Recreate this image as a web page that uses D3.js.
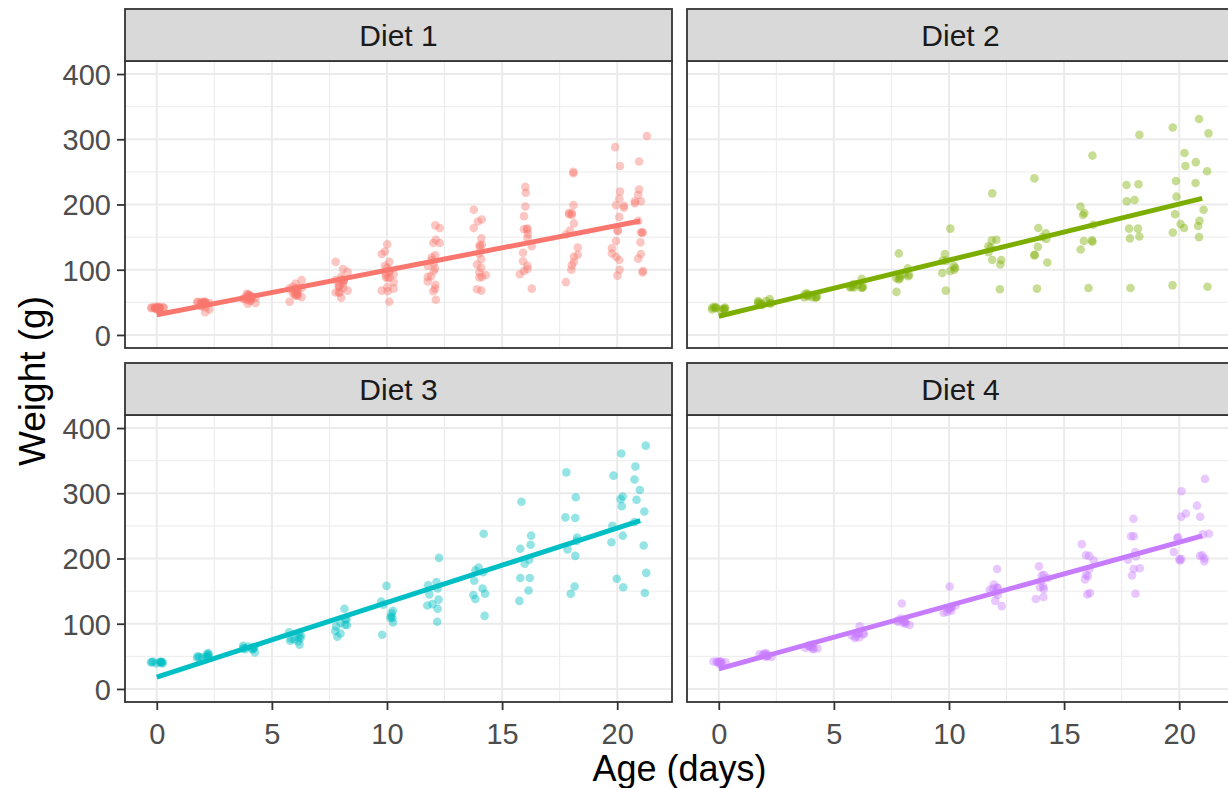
<!DOCTYPE html>
<html>
<head>
    <title>Chick weight by diet</title>
    <script src="https://d3js.org/d3.v7.min.js"></script>
    <style>
        body { margin: 0; background: #fff; }
        text { font-family: "Liberation Sans", Arial, sans-serif; }
    </style>
</head>
<body>
<svg width="1228" height="788"></svg>
<script>
    // ChickWeight: one row per chick, weights at the times below (short rows = chick dropped out)
    const times = [0, 2, 4, 6, 8, 10, 12, 14, 16, 18, 20, 21];
    const diets = ["Diet 1", "Diet 2", "Diet 3", "Diet 4"];
    const diet1 = [
        [42, 51, 59, 64, 76, 93, 106, 125, 149, 171, 199, 205],
        [40, 49, 58, 72, 84, 103, 122, 138, 162, 187, 209, 215],
        [43, 39, 55, 67, 84, 99, 115, 138, 163, 187, 198, 202],
        [42, 49, 56, 67, 74, 87, 102, 108, 136, 154, 160, 157],
        [41, 42, 48, 60, 79, 106, 141, 164, 197, 199, 220, 223],
        [41, 49, 59, 74, 97, 124, 141, 148, 155, 160, 160, 157],
        [41, 49, 57, 71, 89, 112, 146, 174, 218, 250, 288, 305],
        [42, 50, 61, 71, 84, 93, 110, 116, 126, 134, 125],
        [42, 51, 59, 68, 85, 96, 90, 92, 93, 100, 100, 98],
        [41, 44, 52, 63, 74, 81, 89, 96, 101, 112, 120, 124],
        [43, 51, 63, 84, 112, 139, 168, 177, 182, 184, 181, 175],
        [41, 49, 56, 62, 72, 88, 119, 135, 162, 185, 195, 205],
        [41, 48, 53, 60, 65, 67, 71, 70, 71, 81, 91, 96],
        [41, 49, 62, 79, 101, 128, 164, 192, 227, 248, 259, 266],
        [41, 49, 56, 64, 68, 68, 67, 68],
        [41, 45, 49, 51, 57, 51, 54],
        [42, 51, 61, 72, 83, 89, 98, 103, 113, 123, 133, 142],
        [39, 35],
        [43, 48, 55, 62, 65, 71, 82, 88, 106, 120, 144, 157],
        [41, 47, 54, 58, 65, 73, 77, 89, 98, 107, 115, 117]
    ];
    const diet2 = [
        [40, 50, 62, 86, 125, 163, 217, 240, 275, 307, 318, 331],
        [41, 55, 64, 77, 90, 95, 108, 111, 131, 148, 164, 167],
        [43, 52, 61, 73, 90, 103, 127, 135, 145, 163, 170, 175],
        [42, 52, 58, 74, 66, 68, 70, 71, 72, 72, 76, 74],
        [40, 49, 62, 78, 102, 124, 146, 164, 197, 231, 259, 265],
        [42, 48, 57, 74, 93, 114, 136, 147, 169, 205, 236, 251],
        [39, 46, 58, 73, 87, 100, 115, 123, 144, 163, 185, 192],
        [39, 46, 58, 73, 92, 114, 145, 156, 184, 207, 212, 233],
        [39, 48, 59, 74, 87, 106, 134, 150, 187, 230, 279, 309],
        [42, 48, 59, 72, 85, 98, 115, 122, 143, 151, 157, 150]
    ];
    const diet3 = [
        [42, 53, 62, 73, 85, 102, 123, 138, 170, 204, 235, 256],
        [41, 49, 65, 82, 107, 129, 159, 179, 221, 263, 291, 305],
        [39, 50, 63, 77, 96, 111, 137, 144, 151, 146, 156, 147],
        [41, 49, 63, 85, 107, 134, 164, 186, 235, 294, 327, 341],
        [41, 53, 64, 87, 123, 158, 201, 238, 287, 332, 361, 373],
        [39, 48, 61, 76, 98, 116, 145, 166, 198, 227, 225, 220],
        [41, 48, 56, 68, 80, 83, 103, 112, 135, 157, 169, 178],
        [41, 49, 61, 74, 98, 109, 128, 154, 192, 232, 280, 290],
        [42, 50, 61, 78, 89, 109, 130, 146, 170, 214, 250, 272],
        [41, 55, 66, 79, 101, 120, 154, 182, 215, 262, 295, 321]
    ];
    const diet4 = [
        [42, 51, 66, 85, 103, 124, 155, 153, 175, 184, 199, 204],
        [42, 49, 63, 84, 103, 126, 160, 174, 204, 234, 269, 281],
        [42, 55, 69, 96, 131, 157, 184, 188, 197, 198, 199, 200],
        [42, 51, 65, 86, 103, 118, 127, 138, 145, 146],
        [41, 50, 61, 78, 98, 117, 135, 141, 147, 174, 197, 196],
        [40, 52, 62, 82, 101, 120, 144, 156, 173, 210, 231, 238],
        [41, 53, 66, 79, 100, 123, 148, 157, 168, 185, 210, 205],
        [39, 50, 62, 80, 104, 125, 154, 170, 222, 261, 303, 322],
        [40, 53, 64, 85, 108, 128, 152, 166, 184, 203, 233, 237],
        [41, 54, 67, 84, 105, 122, 155, 175, 205, 234, 264, 264]
    ];
    // horizontal jitter offsets (days), cycled over the points
    const jitter = [0.12, -0.21, 0.27, -0.05, 0.18, -0.28, 0.03, 0.24, -0.14, 0.09,
                    -0.25, 0.21, -0.09, 0.15, -0.18, 0.29, -0.02, 0.06, -0.23, 0.26,
                    -0.12, 0.01, 0.2, -0.29, 0.1, -0.16, 0.23];
    const colors = ["#F8766D", "#7CAE00", "#00BFC4", "#C77CFF"];
    const xTicks = [0, 5, 10, 15, 20];
    const xMinor = [2.5, 7.5, 12.5, 17.5];
    const yTicks = [0, 100, 200, 300, 400];
    const yMinor = [50, 150, 250, 350];

    const dietData = [diet1, diet2, diet3, diet4];

    const svg = d3.select("svg");
    const colX = [125, 687];
    const rowY = [9, 363];
    const panelW = 547, stripH = 52, panelH = 287;

    const x = d3.scaleLinear().domain([-1.38, 22.38]).range([0, panelW]);
    const y = d3.scaleLinear().domain([-20, 420]).range([panelH, 0]);

    dietData.forEach((chicks, d) => {
        const col = d % 2, row = Math.floor(d / 2);
        const g = svg.append("g")
            .attr("transform", "translate(" + colX[col] + "," + (rowY[row] + stripH) + ")");

        // rows for this diet
        const rows = [];
        chicks.forEach((ws, c) => {
            ws.forEach((w, i) => {
                rows.push({t: times[i], w: w, jx: jitter[(c * 6 + i * 3 + d * 2) % jitter.length]});
            });
        });

        // gridlines
        g.selectAll(".ymin").data(yMinor).enter().append("line")
            .attr("x1", 0).attr("x2", panelW)
            .attr("y1", v => y(v)).attr("y2", v => y(v))
            .attr("stroke", "#EBEBEB").attr("stroke-width", 1);
        g.selectAll(".xmin").data(xMinor).enter().append("line")
            .attr("y1", 0).attr("y2", panelH)
            .attr("x1", v => x(v)).attr("x2", v => x(v))
            .attr("stroke", "#EBEBEB").attr("stroke-width", 1);
        g.selectAll(".ymaj").data(yTicks).enter().append("line")
            .attr("x1", 0).attr("x2", panelW)
            .attr("y1", v => y(v)).attr("y2", v => y(v))
            .attr("stroke", "#EBEBEB").attr("stroke-width", 2);
        g.selectAll(".xmaj").data(xTicks).enter().append("line")
            .attr("y1", 0).attr("y2", panelH)
            .attr("x1", v => x(v)).attr("x2", v => x(v))
            .attr("stroke", "#EBEBEB").attr("stroke-width", 2);

        // points
        g.selectAll("circle").data(rows).enter().append("circle")
            .attr("cx", r => x(r.t + r.jx))
            .attr("cy", r => y(r.w))
            .attr("r", 4.3)
            .attr("fill", colors[d])
            .attr("fill-opacity", 0.42);

        // least squares line over 0..21
        const mt = d3.mean(rows, r => r.t), mw = d3.mean(rows, r => r.w);
        const slope = d3.sum(rows, r => (r.t - mt) * (r.w - mw)) / d3.sum(rows, r => (r.t - mt) * (r.t - mt));
        const icpt = mw - slope * mt;
        const ends = d3.extent(rows, r => r.t);
        g.append("line")
            .attr("x1", x(ends[0])).attr("y1", y(icpt + slope * ends[0]))
            .attr("x2", x(ends[1])).attr("y2", y(icpt + slope * ends[1]))
            .attr("stroke", colors[d]).attr("stroke-width", 5);

        // panel border
        g.append("rect")
            .attr("width", panelW).attr("height", panelH)
            .attr("fill", "none").attr("stroke", "#333333").attr("stroke-width", 1.8);

        // strip
        svg.append("rect")
            .attr("x", colX[col]).attr("y", rowY[row])
            .attr("width", panelW).attr("height", stripH)
            .attr("fill", "#D9D9D9").attr("stroke", "#333333").attr("stroke-width", 1.8);
        svg.append("text")
            .attr("x", colX[col] + panelW / 2).attr("y", rowY[row] + stripH / 2 + 11)
            .attr("text-anchor", "middle")
            .style("font-size", "30px").attr("fill", "#1A1A1A")
            .text(diets[d]);

        // y axis on left column
        if (col === 0) {
            const ya = g.append("g").call(d3.axisLeft(y).tickValues(yTicks).tickSize(8).tickPadding(6));
            ya.select(".domain").remove();
            ya.selectAll("line").attr("stroke", "#333333").attr("stroke-width", 1.8);
            ya.selectAll("text").style("font-size", "29px").attr("fill", "#4D4D4D").attr("dy", "0.36em");
        }
        // x axis on bottom row
        if (row === 1) {
            const xa = g.append("g").attr("transform", "translate(0," + panelH + ")")
                .call(d3.axisBottom(x).tickValues(xTicks).tickSize(8).tickPadding(6));
            xa.select(".domain").remove();
            xa.selectAll("line").attr("stroke", "#333333").attr("stroke-width", 1.8);
            xa.selectAll("text").style("font-size", "29px").attr("fill", "#4D4D4D").attr("dy", "0.95em");
        }
    });

    svg.append("text")
        .attr("x", (colX[0] + colX[1] + panelW) / 2).attr("y", 781)
        .attr("text-anchor", "middle")
        .style("font-size", "36px").attr("fill", "#000")
        .text("Age (days)");
    svg.append("text")
        .attr("transform", "translate(45,381) rotate(-90)")
        .attr("text-anchor", "middle")
        .style("font-size", "37px").attr("fill", "#000")
        .text("Weight (g)");
</script>
</body>
</html>
